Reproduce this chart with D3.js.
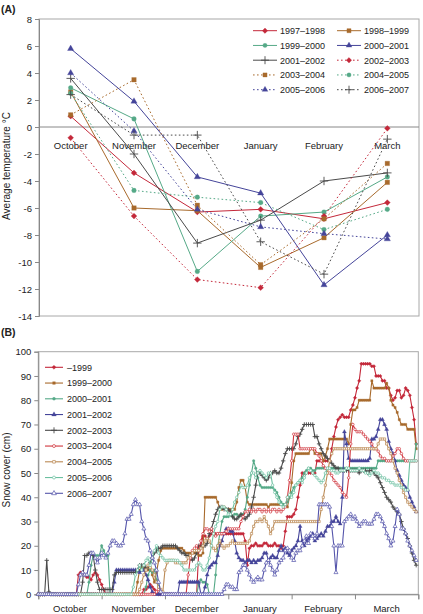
<!DOCTYPE html>
<html><head><meta charset="utf-8">
<script src="https://cdn.jsdelivr.net/npm/d3@7/dist/d3.min.js"></script>
<style>
body{margin:0;background:#fff}
text{font-family:"Liberation Sans",Arial,sans-serif;fill:#222}
</style>
</head><body>
<svg id="c" width="423" height="614"></svg>
<script>
// ---------- Panel A data ----------
const months = ["October","November","December","January","February","March"];
const seasonsA = ["1997–1998","1998–1999","1999–2000","2000–2001","2001–2002","2002–2003","2003–2004","2004–2005","2005–2006","2006–2007"];
const tA_1998 = [0.8, -3.4, -6.3, -6.1, -6.8, -5.6];
const tA_1999 = [2.6, -6.0, -6.2, -10.4, -8.2, -4.1];
const tA_2000 = [2.9, 0.6, -10.7, -6.6, -6.3, -3.7];
const tA_2001 = [5.8, 1.9, -3.7, -4.9, -11.7, -8.0];
const tA_2002 = [3.6, -2.0, -8.6, -6.9, -4.0, -3.4];
const tA_2003 = [-0.8, -6.6, -11.3, -11.9, -6.6, -0.1];
const tA_2004 = [0.9, 3.5, -5.8, -10.2, -6.8, -2.7];
const tA_2005 = [2.5, -4.7, -5.2, -5.6, -7.6, -6.1];
const tA_2006 = [4.0, -0.3, -6.1, -7.4, -7.9, -8.3];
const tA_2007 = [2.4, -0.6, -0.6, -8.5, -10.9, -0.9];
const yTicksA = [-14,-12,-10,-8,-6,-4,-2,0,2,4,6,8];

// ---------- Panel B data (daily snow depth, cm; Oct 1 .. Mar) ----------
const seasonsB = ["–1999","1999–2000","2000–2001","2001–2002","2002–2003","2003–2004","2004–2005","2005–2006","2006–2007"];
const yTicksB = [0,10,20,30,40,50,60,70,80,90,100];
const s_1999 = [
 0,0,0,0,0,0,0,0,0,0,0,0,0,0,0,0,0,0,0,8,9,9,8,7,7,6,8,9,8,6,
 4,2,0,0,0,0,0,0,0,0,0,0,0,0,0,0,0,0,0,0,2,2,3,4,3,2,1,0,0,0,
 0,0,0,0,0,0,0,0,0,0,0,0,0,0,0,0,18,20,24,24,23,24,25,25,25,25,25,25,25,25,
 25,25,25,25,25,25,25,25,22,12,19,20,20,21,20,20,20,21,21,20,20,20,21,20,20,19,20,26,32,32,
 32,33,35,40,45,50,50,50,50,50,50,50,55,55,55,55,55,55,55,60,65,69,72,73,74,73,73,73,76,78,
 81,85,88,95,95,95,95,95,94,94,90,90,90,88,88,85,85,82,80,81,84,84,81,82,85,84,82,77,72,62];
const s_2000 = [
 0,0,0,0,0,0,0,0,0,0,0,0,0,0,0,0,0,0,0,0,0,0,0,0,0,0,0,0,0,0,
 0,0,0,0,0,0,0,0,0,0,0,0,0,0,0,0,0,5,10,11,11,10,10,11,8,5,9,14,18,19,
 19,19,19,19,19,19,19,19,19,18,17,17,17,17,17,17,16,16,17,40,40,40,40,40,40,38,35,35,36,35,
 35,35,35,35,38,44,47,47,44,38,37,37,37,37,37,37,37,37,37,36,37,37,37,37,37,37,37,37,36,40,
 46,55,58,58,58,58,58,58,58,60,60,58,58,58,58,55,57,60,64,64,64,64,64,64,64,64,64,62,70,76,
 76,77,80,80,80,80,80,80,88,85,85,85,85,85,85,87,85,80,78,77,75,72,70,70,70,68,68,68,68,60];
const s_2001 = [
 0,0,0,0,0,0,0,0,0,0,0,0,0,0,0,0,0,0,0,0,0,0,0,0,5,12,16,16,16,16,
 20,18,16,16,0,0,0,0,0,0,0,0,0,0,0,0,0,0,0,0,0,3,8,10,9,10,6,3,1,0,
 0,0,0,0,0,0,0,0,0,0,0,0,0,0,0,0,4,6,5,5,4,0,0,0,8,20,25,30,32,32,
 32,33,32,33,33,32,33,33,35,40,45,50,55,52,48,45,44,44,44,44,44,44,43,42,40,38,37,37,38,40,
 42,44,45,46,47,48,50,51,52,52,51,51,52,52,52,52,52,52,52,52,52,52,52,52,52,52,52,52,52,52,
 52,52,52,52,52,52,52,52,52,52,52,55,55,55,55,55,55,55,55,55,55,55,55,55,55,55,55,55,55,62];
const s_2002 = [
 0,0,0,0,0,0,0,0,0,0,0,0,0,0,0,0,0,0,0,0,0,0,0,0,0,0,0,0,0,0,
 0,0,0,0,0,0,5,10,10,10,10,10,10,10,10,10,10,10,9,10,10,8,6,3,1,0,0,0,0,0,
 0,0,0,0,0,0,0,5,5,5,5,5,5,5,5,5,5,0,0,3,8,11,12,13,13,16,20,22,25,27,
 27,26,26,22,17,15,14,14,13,14,14,13,14,13,14,14,15,17,17,14,15,16,15,15,18,20,18,19,17,16,
 18,19,20,22,28,22,20,22,23,24,25,22,23,24,25,24,26,28,28,30,30,32,30,29,40,67,62,56,55,55,
 55,55,55,55,55,55,55,56,64,64,65,68,72,72,70,68,63,60,58,55,51,49,47,45,44,43,40,38,36,34];
const s_2003 = [
 0,0,0,0,14,1,0,0,0,0,0,0,0,0,0,0,0,0,0,0,0,5,16,16,17,17,16,10,5,2,
 2,2,2,2,2,2,8,9,9,9,9,9,9,9,9,9,9,10,12,12,12,11,11,13,15,17,18,19,19,20,
 20,20,20,20,20,20,19,18,17,17,16,16,15,14,15,17,20,20,20,20,21,25,27,30,33,35,36,36,35,35,
 35,34,32,31,31,32,33,32,31,32,33,36,40,45,50,50,49,48,47,48,50,50,51,50,50,52,55,58,60,60,
 60,60,62,65,66,68,70,70,70,70,70,65,65,62,60,58,57,56,55,54,53,52,52,51,51,51,51,51,51,51,
 51,51,50,51,51,51,50,51,51,50,49,48,46,44,42,40,39,38,36,35,34,33,30,27,25,23,20,17,14,12];
const s_2004 = [
 0,0,0,0,0,0,0,0,0,0,0,0,0,0,0,0,0,0,0,0,0,0,0,0,0,0,0,0,0,0,
 0,0,0,0,0,0,0,0,0,0,0,0,0,0,0,0,0,0,0,0,0,0,0,0,0,0,1,2,1,0,
 0,0,0,0,0,0,0,0,0,0,0,8,15,18,19,20,18,22,25,27,27,26,27,25,24,25,25,25,25,26,
 27,27,27,27,27,27,30,32,34,34,35,34,35,34,35,35,34,35,34,35,34,35,35,34,35,34,35,36,40,47,
 55,66,66,66,60,60,60,60,60,60,60,60,58,57,55,53,52,50,50,49,47,46,45,44,42,41,40,48,62,70,
 68,67,67,67,66,65,64,63,62,60,60,59,57,56,56,55,55,55,57,58,60,60,58,56,55,55,55,55,55,55];
const s_2005 = [
 0,0,0,0,0,0,0,0,0,0,0,0,0,0,0,0,0,0,0,0,0,0,0,0,0,0,0,0,0,0,
 0,0,0,0,0,0,0,0,0,0,0,0,0,0,0,0,0,0,2,5,8,10,12,11,10,8,5,3,2,1,
 10,13,14,14,14,13,13,13,13,13,13,15,16,17,18,18,18,19,20,22,23,22,20,19,18,20,22,20,19,20,
 20,21,22,21,21,21,21,21,21,21,22,25,28,30,30,31,30,32,30,28,25,27,30,30,30,30,30,30,30,30,
 30,30,30,30,30,30,30,30,30,30,30,30,30,30,35,40,45,50,55,58,60,60,60,60,60,60,60,60,60,60,
 60,60,60,60,60,60,60,60,60,60,60,62,64,64,64,62,60,58,55,52,50,47,45,42,40,38,37,36,35,34];
const s_2006 = [
 0,0,0,0,0,0,0,0,0,0,0,0,0,0,0,0,0,0,0,0,0,0,0,0,0,0,0,0,0,0,
 0,0,0,0,0,0,0,0,0,0,0,0,0,0,0,3,8,10,12,10,12,14,15,12,15,18,20,17,16,15,
 14,14,14,14,14,14,14,13,12,10,10,10,10,10,10,12,13,12,10,10,12,15,20,25,28,30,35,36,36,35,
 33,33,35,38,40,42,45,44,44,45,48,50,50,48,50,51,50,49,48,50,50,45,42,40,38,37,36,37,40,41,
 40,42,45,46,47,46,48,50,52,51,50,49,48,47,46,47,50,52,52,51,51,50,50,51,51,51,52,52,51,51,
 51,51,52,51,51,50,50,49,50,51,50,50,49,48,48,47,47,46,46,45,45,45,44,44,43,43,55,55,55,55];
const s_2007 = [
 0,0,0,0,0,0,0,0,0,0,0,0,0,0,0,0,0,0,0,4,8,9,8,8,12,17,17,15,13,15,
 17,16,15,17,20,22,22,21,20,20,21,25,31,31,33,37,39,37,37,30,27,23,22,18,15,13,10,5,1,0,
 0,0,0,0,0,0,0,0,0,0,0,0,0,0,0,0,0,0,0,0,0,0,0,0,0,0,0,0,2,4,
 4,3,3,2,2,9,10,12,12,10,8,6,5,6,7,6,6,10,13,14,12,10,8,10,13,14,15,18,19,18,
 15,14,17,18,18,20,22,24,21,25,24,23,25,37,37,37,37,37,36,28,20,9,20,20,20,30,31,32,33,31,
 32,30,28,29,30,30,29,29,29,31,33,33,32,30,28,25,23,20,22,28,35,33,27,27,25,22,20,18,16,14];

// ---------- styles ----------
const C = {red:"#c4283a", brown:"#a86a2c", green:"#55a987", blue:"#45459a", gray:"#4a4a4a",
           red2:"#d0343c", tan:"#bb8a55", green2:"#6cc0a0", blue2:"#5555ab"};
const plusPath = r => `M${-r},0H${r}M0,${-r}V${r}`;

const svg = d3.select("#c");
const font = "Liberation Sans, Arial, sans-serif";

// area: symbol area in px^2
function marker(g, shape, x, y, color, area, hollow) {
  if (shape === "plus") {
    g.append("path").attr("d", plusPath(area)).attr("transform", `translate(${x},${y})`)
      .attr("stroke", color).attr("stroke-width", 0.9).attr("fill", "none");
    return;
  }
  const t = {diamond: d3.symbolSquare, square: d3.symbolSquare, circle: d3.symbolCircle, triangle: d3.symbolTriangle}[shape];
  g.append("path").attr("d", d3.symbol(t, area)())
    .attr("transform", `translate(${x},${y})` + (shape === "diamond" ? " rotate(45)" : ""))
    .attr("fill", hollow ? "#fff" : color).attr("stroke", color).attr("stroke-width", hollow ? 0.7 : 0.3);
}

// ================= Panel A =================
const A = {l: 39, r: 419, t: 19, b: 316};
const xA = d3.scaleBand().domain(months).range([A.l, A.r]);
const yA = d3.scaleLinear().domain([-14, 8]).range([A.b, A.t]);
const gA = svg.append("g");
gA.append("text").attr("x", 1).attr("y", 13).attr("font-size", 10.5).attr("font-weight", "bold").text("(A)");
gA.append("rect").attr("x", A.l).attr("y", A.t).attr("width", A.r - A.l).attr("height", A.b - A.t)
  .attr("fill", "none").attr("stroke", "#a8a8a8").attr("stroke-width", 1);
const axA = gA.append("g").attr("transform", `translate(${A.l},0)`)
  .call(d3.axisLeft(yA).tickValues(yTicksA).tickSize(4).tickPadding(3).tickFormat(d => String(d)));
axA.selectAll("path,line").attr("stroke", "#888");
axA.selectAll("text").attr("font-size", 9.5).attr("font-family", font).attr("fill", "#222");
gA.append("line").attr("x1", A.l).attr("x2", A.r).attr("y1", yA(0)).attr("y2", yA(0)).attr("stroke", "#888");
gA.selectAll(".mlab").data(months).enter().append("text")
  .attr("x", d => xA(d) + xA.bandwidth() / 2).attr("y", yA(0) + 22).attr("text-anchor", "middle")
  .attr("font-size", 9.5).text(d => d);
gA.append("text").attr("transform", `translate(10,166) rotate(-90)`).attr("text-anchor", "middle")
  .attr("font-size", 10).text("Average temperature °C");

const dashA = "1.6,2.4";
const seriesA = [
  {name: seasonsA[0], v: tA_1998, c: C.red, s: "diamond", dash: null},
  {name: seasonsA[1], v: tA_1999, c: C.brown, s: "square", dash: null},
  {name: seasonsA[2], v: tA_2000, c: C.green, s: "circle", dash: null},
  {name: seasonsA[3], v: tA_2001, c: C.blue, s: "triangle", dash: null},
  {name: seasonsA[4], v: tA_2002, c: C.gray, s: "plus", dash: null},
  {name: seasonsA[5], v: tA_2003, c: C.red, s: "diamond", dash: dashA},
  {name: seasonsA[6], v: tA_2004, c: C.brown, s: "square", dash: dashA},
  {name: seasonsA[7], v: tA_2005, c: C.green, s: "circle", dash: dashA},
  {name: seasonsA[8], v: tA_2006, c: C.blue, s: "triangle", dash: dashA},
  {name: seasonsA[9], v: tA_2007, c: C.gray, s: "plus", dash: dashA}
];
const areaA = {diamond: 17, square: 20, circle: 17, triangle: 17, plus: 4.2};
const lineA = d3.line().x((d, i) => xA(months[i]) + xA.bandwidth() / 2).y(d => yA(d));
seriesA.forEach(s => {
  gA.append("path").attr("d", lineA(s.v)).attr("fill", "none").attr("stroke", s.c)
    .attr("stroke-width", 1).attr("stroke-dasharray", s.dash);
});
seriesA.forEach(s => {
  s.v.forEach((d, i) => marker(gA, s.s, xA(months[i]) + xA.bandwidth() / 2, yA(d), s.c, areaA[s.s], false));
});
// legend A
seriesA.forEach((s, i) => {
  const col = i % 2, row = Math.floor(i / 2);
  const lx = col === 0 ? 253 : 337, ly = 30.7 + row * 14.75;
  gA.append("line").attr("x1", lx).attr("x2", lx + 24).attr("y1", ly).attr("y2", ly)
    .attr("stroke", s.c).attr("stroke-width", 1).attr("stroke-dasharray", s.dash);
  marker(gA, s.s, lx + 12, ly, s.c, s.s === "plus" ? 4 : areaA[s.s] * 0.85, false);
  gA.append("text").attr("x", lx + 27).attr("y", ly + 3.3).attr("font-size", 9).text(s.name);
});

// ================= Panel B =================
const B = {l: 38.3, r: 418.3, t: 351.7, b: 594.3};
const xB = d3.scaleLinear().domain([0, 180]).range([B.l, B.r]);
const yB = d3.scaleLinear().domain([0, 100]).range([B.b, B.t]);
const gB = svg.append("g");
gB.append("text").attr("x", 1).attr("y", 336).attr("font-size", 10.5).attr("font-weight", "bold").text("(B)");
gB.append("rect").attr("x", B.l).attr("y", B.t).attr("width", B.r - B.l).attr("height", B.b - B.t)
  .attr("fill", "none").attr("stroke", "#a8a8a8");
const ayB = gB.append("g").attr("transform", `translate(${B.l},0)`)
  .call(d3.axisLeft(yB).tickValues(yTicksB).tickSize(4).tickPadding(3));
ayB.selectAll("path,line").attr("stroke", "#888");
ayB.selectAll("text").attr("font-size", 9.5).attr("font-family", font).attr("fill", "#222");
const axB = gB.append("g").attr("transform", `translate(0,${B.b})`)
  .call(d3.axisBottom(xB).tickValues([0, 30, 60, 90, 120, 150, 180]).tickSize(5).tickFormat(""));
axB.selectAll("path,line").attr("stroke", "#888");
gB.selectAll(".mlabB").data(months).enter().append("text")
  .attr("x", (d, i) => xB(i * 30 + 15)).attr("y", 611.5).attr("text-anchor", "middle")
  .attr("font-size", 9.5).text(d => d);
gB.append("text").attr("transform", `translate(10,470) rotate(-90)`).attr("text-anchor", "middle")
  .attr("font-size", 10).text("Snow cover (cm)");

const seriesB = [
  {name: seasonsB[0], v: s_1999, c: C.red, s: "diamond", h: false},
  {name: seasonsB[1], v: s_2000, c: C.brown, s: "square", h: false},
  {name: seasonsB[2], v: s_2001, c: C.green, s: "circle", h: false},
  {name: seasonsB[3], v: s_2002, c: C.blue, s: "triangle", h: false},
  {name: seasonsB[4], v: s_2003, c: C.gray, s: "plus", h: false},
  {name: seasonsB[5], v: s_2004, c: C.red2, s: "circle", h: true},
  {name: seasonsB[6], v: s_2005, c: C.tan, s: "square", h: true},
  {name: seasonsB[7], v: s_2006, c: C.green2, s: "circle", h: true},
  {name: seasonsB[8], v: s_2007, c: C.blue2, s: "triangle", h: true}
];
const areaB = {diamond: 6, square: 5, circle: 5, triangle: 7, plus: 2.2};
const lineB = d3.line().x((d, i) => xB(i)).y(d => yB(d));
seriesB.forEach(s => {
  const g = gB.append("g");
  g.append("path").attr("d", lineB(s.v)).attr("fill", "none").attr("stroke", s.c).attr("stroke-width", 1.1);
  s.v.forEach((d, i) => marker(g, s.s, xB(i), yB(d), s.c, areaB[s.s], s.h));
});
// legend B
seriesB.forEach((s, i) => {
  const lx = 45, ly = 367.3 + i * 15.75;
  gB.append("line").attr("x1", lx).attr("x2", lx + 18).attr("y1", ly).attr("y2", ly)
    .attr("stroke", s.c).attr("stroke-width", 1.1);
  marker(gB, s.s, lx + 9, ly, s.c, s.s === "plus" ? 3 : areaB[s.s] * 1.4, s.h);
  gB.append("text").attr("x", lx + 22).attr("y", ly + 3.3).attr("font-size", 9).text(s.name);
});
</script>
</body></html>
